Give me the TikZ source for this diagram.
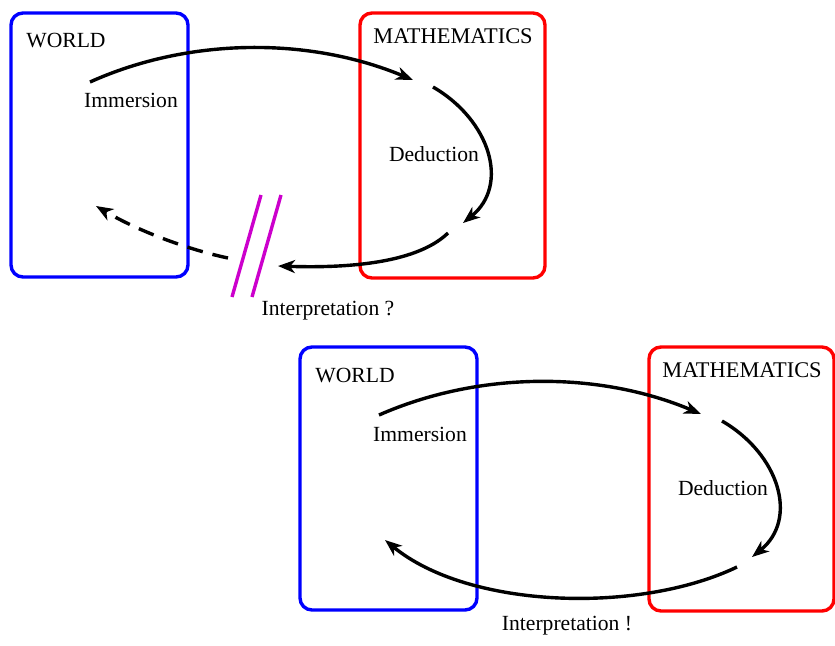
\documentclass[tikz,border=0pt]{standalone}
\usepackage{fontspec}
\setmainfont{Liberation Serif}
\usetikzlibrary{arrows.meta}
\definecolor{worldcol}{HTML}{0000FF}
\definecolor{mathcol}{HTML}{FF0000}
\definecolor{breakcol}{HTML}{CC00CC}

\tikzset{
    panel/.style={line width=1.7pt, rounded corners=6pt},
    flow/.style={line width=1.7pt, -{Stealth[length=8.5pt, width=6.5pt, inset=2.5pt]}},
    lbl/.style={inner sep=0pt, font=\fontsize{10.8}{12}\selectfont}
}

\begin{document}
\begin{tikzpicture}[x=0.5pt, y=-0.5pt]
    \useasboundingbox (0,0) rectangle (835,645);

    % ---- first cycle : interpretation broken
    \draw[panel, color=worldcol] (11,13) rectangle (188,277);
    \draw[panel, color=mathcol] (360,13) rectangle (545,278);
    \node[lbl] (world1) at (66,41) {WORLD};
    \node[lbl, font=\fontsize{11.2}{12}\selectfont] (math1) at (453,36) {MATHEMATICS};

    \coordinate (imS1) at (90,82);
    \coordinate (imE1) at (413,80);
    \coordinate (deS1) at (433,87);
    \coordinate (deE1) at (463,223);
    \coordinate (inS1) at (448,233);
    \coordinate (inE1) at (278,266);
    \coordinate (daS1) at (228,258);
    \coordinate (daE1) at (96,206);

    % Immersion
    \draw[flow] (imS1) .. controls (190,37) and (310,37) .. (imE1);
    \node[lbl] (imm1) at (131,100) {Immersion};
    % Deduction
    \draw[flow] (deS1) .. controls (490,120) and (510,185) .. (deE1);
    \node[lbl] (ded1) at (434,154) {Deduction};
    % Interpretation, cut
    \draw[flow] (inS1) .. controls (415,265) and (340,268) .. (inE1);
    \draw[flow, dash pattern=on 8pt off 5pt] (daS1) .. controls (190,250) and (140,232) .. (daE1);
    \draw[line width=1.7pt, color=breakcol] (261,195) -- (232,297);
    \draw[line width=1.7pt, color=breakcol] (281,195) -- (252,297);
    \node[lbl] (int1) at (328,311) {Interpretation ?};

    % ---- second cycle : interpretation closed
    \draw[panel, color=worldcol] (300,347) rectangle (477,610);
    \draw[panel, color=mathcol] (649,347) rectangle (834,611);
    \node[lbl] (world2) at (355,375) {WORLD};
    \node[lbl, font=\fontsize{11.2}{12}\selectfont] (math2) at (742,370) {MATHEMATICS};

    \coordinate (imS2) at (379,415);
    \coordinate (imE2) at (701,414);
    \coordinate (deS2) at (722,421);
    \coordinate (deE2) at (752,557);
    \coordinate (inS2) at (737,567);
    \coordinate (inE2) at (385,540);

    % Immersion
    \draw[flow] (imS2) .. controls (479,371) and (599,371) .. (imE2);
    \node[lbl] (imm2) at (420,434) {Immersion};
    % Deduction
    \draw[flow] (deS2) .. controls (779,454) and (799,519) .. (deE2);
    \node[lbl] (ded2) at (723,488) {Deduction};
    % Interpretation
    \draw[flow] (inS2) .. controls (639,614) and (469,609) .. (inE2);
    \node[lbl] (int2) at (567,626) {Interpretation !};
\end{tikzpicture}
\end{document}
